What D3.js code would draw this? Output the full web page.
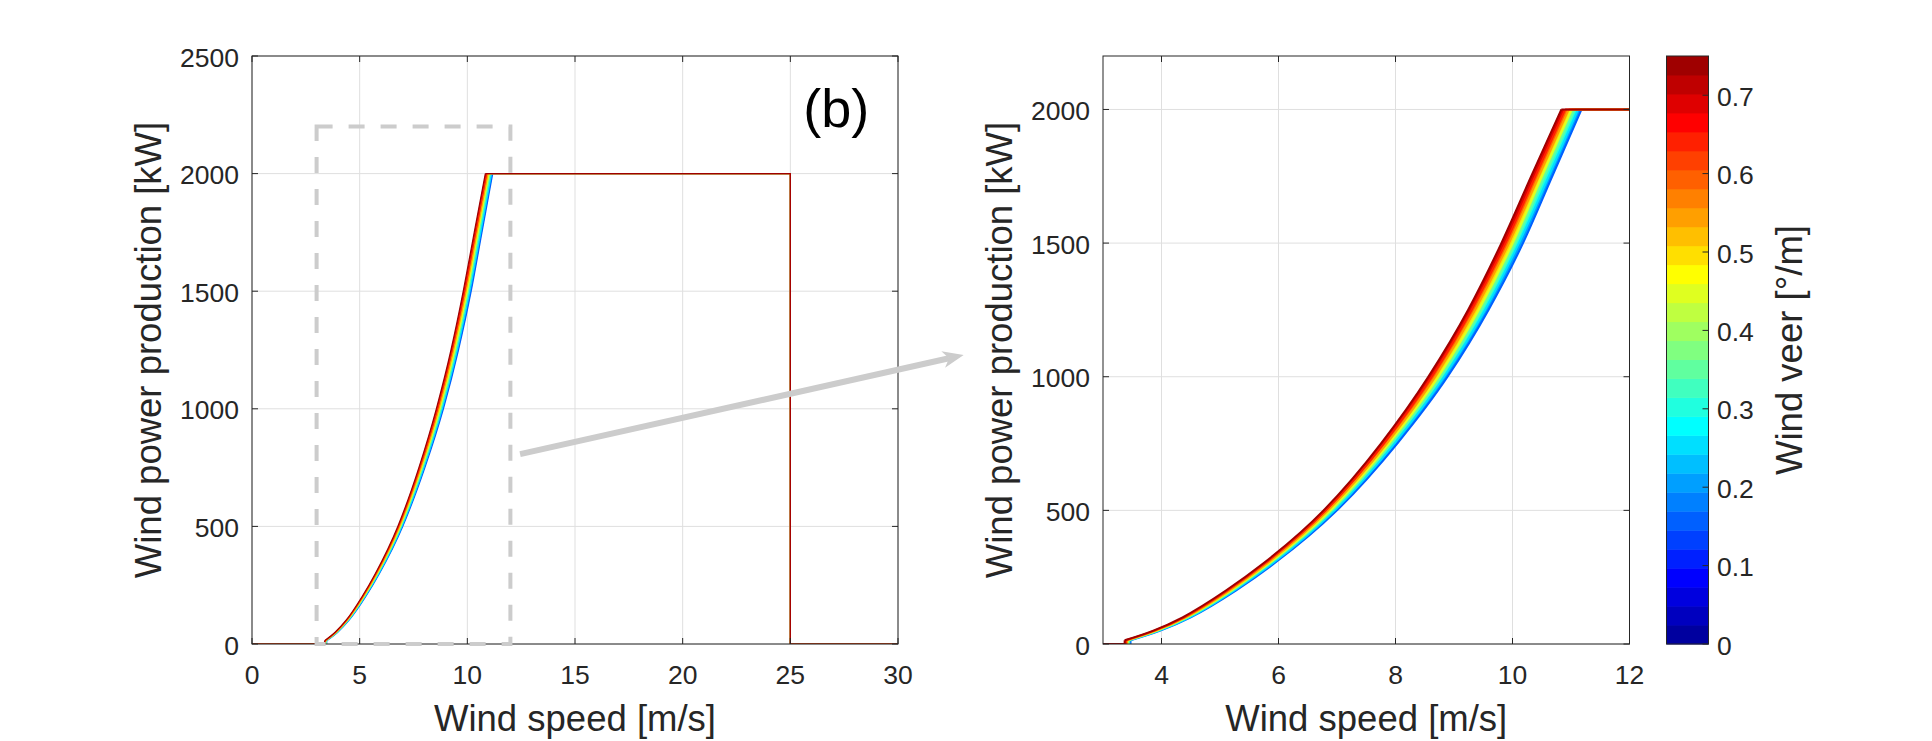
<!DOCTYPE html>
<html>
<head>
<meta charset="utf-8">
<script src="https://cdn.jsdelivr.net/npm/d3@7"></script>
<style>
  body { margin: 0; background: #fff; }
  svg { display: block; font-family: "Liberation Sans", Arial, Helvetica, sans-serif; }
</style>
</head>
<body>
<svg width="1932" height="741"></svg>
<script>
// power levels (kW) at which the wind speed of each curve was read
const powerLevels = [14, 50, 100, 200, 300, 500, 750, 1000, 1250, 1500, 1750, 2000];

// wind veer of each drawn curve [deg/m]
const veerLevels = [0.15, 0.25, 0.35, 0.45, 0.55, 0.65, 0.75];

// wind speed [m/s] reaching each power level, one array per veer level
const windSpeedVeer015 = [3.47, 3.98, 4.50, 5.27, 5.92, 7.00, 8.03, 8.89, 9.59, 10.18, 10.68, 11.18];
const windSpeedVeer025 = [3.45, 3.96, 4.48, 5.24, 5.89, 6.96, 7.98, 8.83, 9.53, 10.11, 10.62, 11.12];
const windSpeedVeer035 = [3.44, 3.94, 4.45, 5.21, 5.85, 6.92, 7.93, 8.78, 9.47, 10.05, 10.55, 11.06];
const windSpeedVeer045 = [3.42, 3.92, 4.43, 5.19, 5.83, 6.89, 7.89, 8.73, 9.42, 10.00, 10.50, 11.01];
const windSpeedVeer055 = [3.41, 3.90, 4.41, 5.16, 5.80, 6.85, 7.85, 8.68, 9.36, 9.94, 10.45, 10.96];
const windSpeedVeer065 = [3.39, 3.88, 4.39, 5.13, 5.76, 6.81, 7.80, 8.62, 9.30, 9.88, 10.39, 10.90];
const windSpeedVeer075 = [3.37, 3.86, 4.36, 5.10, 5.73, 6.77, 7.75, 8.56, 9.24, 9.81, 10.32, 10.835];
const windSpeedSeries = [windSpeedVeer015, windSpeedVeer025, windSpeedVeer035, windSpeedVeer045,
  windSpeedVeer055, windSpeedVeer065, windSpeedVeer075];

const cutOutSpeed = 25;
const ratedPower = 2000;

// axis ticks
const leftXTicks = [0, 5, 10, 15, 20, 25, 30];
const leftYTicks = [0, 500, 1000, 1500, 2000, 2500];
const rightXTicks = [4, 6, 8, 10, 12];
const rightYTicks = [0, 500, 1000, 1500, 2000];
const colorbarTicks = [0, 0.1, 0.2, 0.3, 0.4, 0.5, 0.6, 0.7];

// zoom box and arrow (left panel data coordinates)
const zoomBox = { x0: 3, x1: 12, y0: 0, y1: 2200 };
const arrowFrom = [12.45, 807];
const arrowTo = [33.05, 1229];

const veerMax = 0.75, nColors = 31;

// matlab style jet colormap
function jet(m) {
  const n = Math.ceil(m / 4);
  const u = [];
  for (let i = 1; i <= n; i++) u.push(i / n);
  for (let i = 1; i < n; i++) u.push(1);
  for (let i = n; i >= 1; i--) u.push(i / n);
  const g0 = Math.ceil(n / 2) - (m % 4 === 1 ? 1 : 0);
  const J = d3.range(m).map(() => [0, 0, 0]);
  u.forEach((v, k) => {
    const g = g0 + k + 1, r = g + n, b = g - n;
    if (r >= 1 && r <= m) J[r - 1][0] = v;
    if (g >= 1 && g <= m) J[g - 1][1] = v;
    if (b >= 1 && b <= m) J[b - 1][2] = v;
  });
  return J.map(c => d3.rgb(c[0] * 255, c[1] * 255, c[2] * 255).formatHex());
}
const cmap = jet(nColors);
const veerColor = v => cmap[Math.min(nColors - 1, Math.floor(v / veerMax * nColors))];

const ink = "#262626", gridCol = "#dfdfdf";
const svg = d3.select("svg");

const panels = [
  { id: "L", x: d3.scaleLinear().domain([0, 30]).range([252, 898]),
    y: d3.scaleLinear().domain([0, 2500]).range([644, 56]),
    xt: leftXTicks, yt: leftYTicks, lw: 1.2 },
  { id: "R", x: d3.scaleLinear().domain([3, 12]).range([1103, 1629.5]),
    y: d3.scaleLinear().domain([0, 2200]).range([644, 56]),
    xt: rightXTicks, yt: rightYTicks, lw: 2 }
];

const lin = d3.line();
const smooth = d3.line().curve(d3.curveMonotoneX);

panels.forEach(p => {
  const [x0, x1] = p.x.range(), [y0, y1] = p.y.range();
  const g = svg.append("g");

  svg.append("clipPath").attr("id", "clip" + p.id)
    .append("rect").attr("x", x0).attr("y", y1).attr("width", x1 - x0).attr("height", y0 - y1);

  // grid
  g.selectAll(".gx").data(p.xt).join("line")
    .attr("x1", d => p.x(d)).attr("x2", d => p.x(d)).attr("y1", y0).attr("y2", y1)
    .attr("stroke", gridCol);
  g.selectAll(".gy").data(p.yt).join("line")
    .attr("y1", d => p.y(d)).attr("y2", d => p.y(d)).attr("x1", x0).attr("x2", x1)
    .attr("stroke", gridCol);

  const cg = g.append("g").attr("clip-path", `url(#clip${p.id})`);

  // filled bands between neighbouring veer curves
  const band = d3.area().curve(d3.curveMonotoneX)
    .y0(j => p.y(powerLevels[j])).y1(j => p.y(powerLevels[j]));
  veerLevels.slice(0, -1).forEach((v, i) => {
    const a = windSpeedSeries[i], b = windSpeedSeries[i + 1];
    cg.append("path")
      .attr("fill", veerColor((v + veerLevels[i + 1]) / 2))
      .attr("d", band.x0(j => p.x(a[j])).x1(j => p.x(b[j]))(d3.range(powerLevels.length)));
  });

  // curves, low veer first so the high veer ones sit on top
  const lg = cg.append("g").attr("fill", "none").attr("stroke-width", p.lw)
    .attr("stroke-linejoin", "round");
  veerLevels.forEach((v, i) => {
    const ws = windSpeedSeries[i];
    const col = veerColor(v);
    const pts = ws.map((w, j) => [p.x(w), p.y(powerLevels[j])]);
    lg.append("path").attr("stroke", col)
      .attr("d", lin([[p.x(0), p.y(0)], [p.x(ws[0]), p.y(0)], [p.x(ws[0]), p.y(powerLevels[0])]]));
    lg.append("path").attr("stroke", col).attr("d", smooth(pts));
    lg.append("path").attr("stroke", col)
      .attr("d", lin([[p.x(ws[ws.length - 1]), p.y(ratedPower)], [p.x(cutOutSpeed), p.y(ratedPower)],
        [p.x(cutOutSpeed), p.y(0)], [p.x(30), p.y(0)]]));
  });

  // box
  g.append("rect").attr("x", x0).attr("y", y1).attr("width", x1 - x0).attr("height", y0 - y1)
    .attr("fill", "none").attr("stroke", ink).attr("stroke-width", 1);

  // ticks (inside, on all four sides)
  const tl = 6;
  p.xt.forEach(t => {
    g.append("line").attr("x1", p.x(t)).attr("x2", p.x(t)).attr("y1", y0).attr("y2", y0 - tl).attr("stroke", ink);
    g.append("line").attr("x1", p.x(t)).attr("x2", p.x(t)).attr("y1", y1).attr("y2", y1 + tl).attr("stroke", ink);
  });
  p.yt.forEach(t => {
    g.append("line").attr("y1", p.y(t)).attr("y2", p.y(t)).attr("x1", x0).attr("x2", x0 + tl).attr("stroke", ink);
    g.append("line").attr("y1", p.y(t)).attr("y2", p.y(t)).attr("x1", x1).attr("x2", x1 - tl).attr("stroke", ink);
  });

  g.selectAll(".xl").data(p.xt).join("text")
    .attr("x", d => p.x(d)).attr("y", y0 + 40).attr("text-anchor", "middle")
    .attr("font-size", 26.5).attr("fill", ink).text(d => d);
  g.selectAll(".yl").data(p.yt).join("text")
    .attr("x", x0 - 13).attr("y", d => p.y(d) + 10.5).attr("text-anchor", "end")
    .attr("font-size", 26.5).attr("fill", ink).text(d => d);

  g.append("text").attr("x", (x0 + x1) / 2).attr("y", 730.5).attr("text-anchor", "middle")
    .attr("font-size", 36.5).attr("fill", ink).text("Wind speed [m/s]");
  g.append("text").attr("transform", `translate(${x0 - 91},${(y0 + y1) / 2}) rotate(-90)`)
    .attr("text-anchor", "middle").attr("font-size", 36.5).attr("fill", ink)
    .text("Wind power production [kW]");
});

// panel label and zoom box on the left panel
const L = panels[0];
svg.append("text").attr("x", L.x(25.6)).attr("y", L.y(2200)).attr("font-size", 54)
  .attr("fill", "#000").text("(b)");

svg.append("rect")
  .attr("x", L.x(zoomBox.x0)).attr("y", L.y(zoomBox.y1))
  .attr("width", L.x(zoomBox.x1) - L.x(zoomBox.x0)).attr("height", L.y(zoomBox.y0) - L.y(zoomBox.y1))
  .attr("fill", "none").attr("stroke", "#cccccc").attr("stroke-width", 4)
  .attr("stroke-dasharray", "16,16");

// colorbar
const cbX = 1666.5, cbW = 42;
const cbY = d3.scaleLinear().domain([0, veerMax]).range([644, 56]);
const cb = svg.append("g");
cb.selectAll("rect.band").data(d3.range(nColors)).join("rect")
  .attr("x", cbX).attr("width", cbW)
  .attr("y", i => cbY((i + 1) * veerMax / nColors))
  .attr("height", i => cbY(i * veerMax / nColors) - cbY((i + 1) * veerMax / nColors) + 0.5)
  .attr("fill", i => cmap[i]);
cb.append("rect").attr("x", cbX).attr("y", 56).attr("width", cbW).attr("height", 588)
  .attr("fill", "none").attr("stroke", ink);
colorbarTicks.forEach(t => {
  cb.append("line").attr("x1", cbX + cbW).attr("x2", cbX + cbW - 6)
    .attr("y1", cbY(t)).attr("y2", cbY(t)).attr("stroke", ink);
  cb.append("text").attr("x", 1717).attr("y", cbY(t) + 10.5).attr("font-size", 26.5)
    .attr("fill", ink).text(t);
});
cb.append("text").attr("transform", `translate(1802,350) rotate(-90)`)
  .attr("text-anchor", "middle").attr("font-size", 36.5).attr("fill", ink)
  .text("Wind veer [°/m]");

// arrow from the zoom box to the right panel
const a0 = [L.x(arrowFrom[0]), L.y(arrowFrom[1])];
const a1 = [L.x(arrowTo[0]), L.y(arrowTo[1])];
const len = Math.hypot(a1[0] - a0[0], a1[1] - a0[1]);
const ux = (a1[0] - a0[0]) / len, uy = (a1[1] - a0[1]) / len;
const nx = -uy, ny = ux;
const headL = 21, headW = 8.5, notch = 6;
svg.append("line")
  .attr("x1", a0[0]).attr("y1", a0[1])
  .attr("x2", a1[0] - (headL - notch) * ux).attr("y2", a1[1] - (headL - notch) * uy)
  .attr("stroke", "#cccccc").attr("stroke-width", 6);
svg.append("path")
  .attr("d", lin([
    a1,
    [a1[0] - headL * ux + headW * nx, a1[1] - headL * uy + headW * ny],
    [a1[0] - (headL - notch) * ux, a1[1] - (headL - notch) * uy],
    [a1[0] - headL * ux - headW * nx, a1[1] - headL * uy - headW * ny]
  ]) + "Z")
  .attr("fill", "#cccccc");
</script>
</body>
</html>
